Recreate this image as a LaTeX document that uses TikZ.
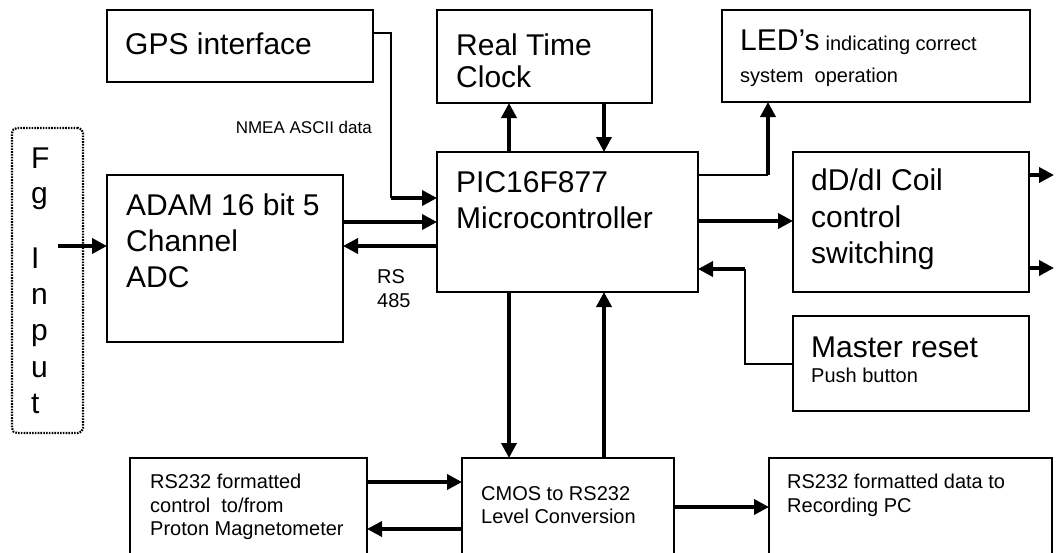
\documentclass[tikz,border=0pt]{standalone}
\usepackage{fontspec}
\setmainfont{Liberation Sans}
\usetikzlibrary{arrows.meta}
\begin{document}
\begin{tikzpicture}[x=1pt,y=-1pt,
  box/.style={draw, line width=1.3pt, inner sep=0pt, outer sep=0pt},
  fgbox/.style={draw, line width=2.2pt, dash pattern=on 1.6pt off 1.2pt, rounded corners=5pt, inner sep=0pt, outer sep=0pt},
  arr/.style={line width=3.6pt, -{Triangle[length=15pt,width=15pt]}},
  thinln/.style={line width=1.5pt},
  txt/.style={inner sep=0pt, anchor=base west},
  bigt/.style={txt, font=\fontsize{30}{36}\selectfont},
  smallt/.style={txt, font=\fontsize{20}{24}\selectfont},
  nmeat/.style={inner sep=0pt, anchor=base east, font=\fontsize{17}{21}\selectfont}]
\useasboundingbox (0,0) rectangle (1057,552);
\clip (0,0) rectangle (1057,552);
% boxes
\node[box, minimum width=266pt, minimum height=72pt] (gps) at (240,46) {};
\node[box, minimum width=215pt, minimum height=93pt] (rtc) at (544.5,56.5) {};
\node[box, minimum width=308pt, minimum height=92pt] (led) at (876,56) {};
\node[fgbox, minimum width=71pt, minimum height=305pt] (fg) at (47.5,280.5) {};
\node[box, minimum width=236pt, minimum height=167pt] (adam) at (225,258.5) {};
\node[box, minimum width=261pt, minimum height=140pt] (pic) at (567.5,222) {};
\node[box, minimum width=236pt, minimum height=140pt] (coil) at (911,222) {};
\node[box, minimum width=236pt, minimum height=95pt] (reset) at (911,363.5) {};
\node[box, minimum width=237pt, minimum height=112pt] (ctrl) at (248.5,514) {};
\node[box, minimum width=212pt, minimum height=112pt] (cmos) at (568,514) {};
\node[box, minimum width=283pt, minimum height=112pt] (rec) at (910.5,514) {};
% texts
\node[bigt] (tgps) at (125,54) {GPS interface};
\node[bigt] (trtc1) at (456,55) {Real Time};
\node[bigt] (trtc2) at (456,87) {Clock};
\node[bigt] (tled1) at (740,50) {LED’s};
\node[smallt, anchor=base west] (tled2) at (tled1.base east) {\ indicating correct};
\node[smallt] (tled3) at (740,82) {system\ \ operation};
\node[bigt] (tfg1) at (31,168) {F};
\node[bigt] (tfg2) at (31,203) {g};
\node[bigt] (tfg3) at (31,268) {I};
\node[bigt] (tfg4) at (31,304) {n};
\node[bigt] (tfg5) at (31,340) {p};
\node[bigt] (tfg6) at (31,377) {u};
\node[bigt] (tfg7) at (31,413) {t};
\node[bigt] (tadam1) at (126,215) {ADAM 16 bit 5};
\node[bigt] (tadam2) at (126,251) {Channel};
\node[bigt] (tadam3) at (126,287) {ADC};
\node[bigt] (tpic1) at (456,192) {PIC16F877};
\node[bigt] (tpic2) at (456,228) {Microcontroller};
\node[bigt] (tcoil1) at (811,190) {dD/dI Coil};
\node[bigt] (tcoil2) at (811,227) {control};
\node[bigt] (tcoil3) at (811,263) {switching};
\node[bigt] (treset1) at (811,357) {Master reset};
\node[smallt] (treset2) at (811,382) {Push button};
\node[nmeat] (tnmea) at (372,133) {NMEA ASCII data};
\node[smallt] (trs1) at (377,283) {RS};
\node[smallt] (trs2) at (377,307) {485};
\node[smallt] (tctrl1) at (150,488) {RS232 formatted};
\node[smallt] (tctrl2) at (150,512) {control\ \ to/from};
\node[smallt] (tctrl3) at (150,535) {Proton Magnetometer};
\node[smallt] (tcmos1) at (481,500) {CMOS to RS232};
\node[smallt] (tcmos2) at (481,523) {Level Conversion};
\node[smallt] (trec1) at (787,488) {RS232 formatted data to};
\node[smallt] (trec2) at (787,512) {Recording PC};
% bend points
\coordinate (gpsbend) at (391,198);
\coordinate (ledbend) at (768,175);
\coordinate (resetbend) at (745,269);
\coordinate (fgstart) at (58,246);
\coordinate (out1) at (1054,175);
\coordinate (out2) at (1054,268);
% connectors
\draw[thinln] (gps.east |- 0,33) -| (gpsbend);
\draw[arr] (gpsbend) -- (pic.west |- gpsbend);
\draw[arr] (adam.east |- 0,222) -- (pic.west |- 0,222);
\draw[arr] (pic.west |- 0,246) -- (adam.east |- 0,246);
\draw[arr] (fgstart) -- (adam.west |- fgstart);
\draw[arr] (pic.north -| 509,0) -- (rtc.south -| 509,0);
\draw[arr] (rtc.south -| 604,0) -- (pic.north -| 604,0);
\draw[thinln] (pic.east |- ledbend) -- (ledbend);
\draw[arr] (ledbend) -- (led.south -| ledbend);
\draw[arr] (pic.east |- 0,221) -- (coil.west |- 0,221);
\draw[thinln] (reset.west |- 0,364) -| (resetbend);
\draw[arr] (resetbend) -- (pic.east |- resetbend);
\draw[arr] (coil.east |- out1) -- (out1);
\draw[arr] (coil.east |- out2) -- (out2);
\draw[arr] (pic.south -| 509,0) -- (cmos.north -| 509,0);
\draw[arr] (cmos.north -| 604,0) -- (pic.south -| 604,0);
\draw[arr] (ctrl.east |- 0,482) -- (cmos.west |- 0,482);
\draw[arr] (cmos.west |- 0,529) -- (ctrl.east |- 0,529);
\draw[arr] (cmos.east |- 0,507) -- (rec.west |- 0,507);
\end{tikzpicture}
\end{document}
